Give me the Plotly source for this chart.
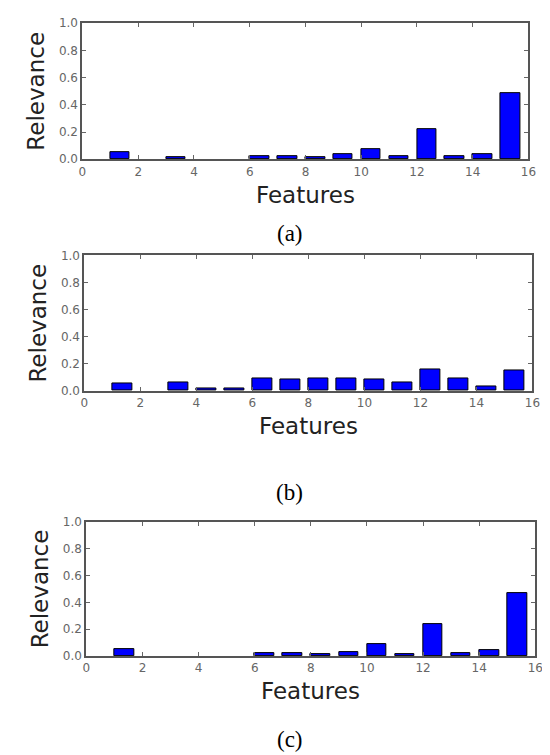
import plotly.graph_objects as go

features = list(range(1, 16))
relevance_a = [0.05, 0.0, 0.012, 0.0, 0.0, 0.02, 0.02, 0.012, 0.038, 0.078, 0.02, 0.224, 0.02, 0.04, 0.489]
relevance_b = [0.053, 0.0, 0.062, 0.017, 0.015, 0.089, 0.081, 0.091, 0.091, 0.084, 0.062, 0.16, 0.09, 0.033, 0.15]
relevance_c = [0.053, 0.0, 0.0, 0.0, 0.0, 0.022, 0.022, 0.012, 0.029, 0.09, 0.012, 0.24, 0.022, 0.041, 0.466]
x_ticks = [0, 2, 4, 6, 8, 10, 12, 14, 16]
y_ticks = [0.0, 0.2, 0.4, 0.6, 0.8, 1.0]
captions = ["(a)", "(b)", "(c)"]

W, H = 550, 755
# pixel boxes: left, right, top, bottom
boxes = [(72, 528, 8.3, 147), (74, 532, 245, 383), (76, 535, 516.7, 653)]
series = [relevance_a, relevance_b, relevance_c]
caption_y = [223, 487, 738]

fig = go.Figure()
annotations = []
for i, (vals, box) in enumerate(zip(series, boxes)):
    l, r, t, b = box
    xa = "xaxis" if i == 0 else f"xaxis{i+1}"
    ya = "yaxis" if i == 0 else f"yaxis{i+1}"
    xref = "x" if i == 0 else f"x{i+1}"
    yref = "y" if i == 0 else f"y{i+1}"
    edge_w = [1 if v > 0 else 0 for v in vals]
    fig.add_trace(go.Bar(
        x=features, y=vals, width=0.7, offset=0,
        marker=dict(color="#0000FF", line=dict(color="black", width=edge_w)),
        xaxis=xref, yaxis=yref, showlegend=False,
    ))
    common = dict(showline=True, linecolor="#555555", linewidth=2, mirror="ticks",
                  ticks="inside", ticklen=4, tickcolor="#666666", tickwidth=1,
                  showgrid=False, zeroline=False,
                  tickfont=dict(family="DejaVu Sans", size=12, color="#666666"))
    fig.layout[xa] = dict(domain=[l / W, r / W], range=[0, 16], tickvals=x_ticks,
                          anchor=yref, **common)
    fig.layout[ya] = dict(domain=[1 - b / H, 1 - t / H], range=[0, 1.0], tickvals=y_ticks,
                          tickformat=".1f", anchor=xref, **common)
    annotations.append(dict(text="Relevance", textangle=-90, xref="paper", yref="paper",
                            x=(l - 47) / W, y=1 - (t + b) / 2 / H, showarrow=False,
                            xanchor="center", yanchor="middle",
                            font=dict(family="DejaVu Sans", size=23, color="#222222")))
    annotations.append(dict(text="Features", xref="paper", yref="paper",
                            x=(l + r) / 2 / W, y=1 - (b + 36) / H, showarrow=False,
                            xanchor="center", yanchor="middle",
                            font=dict(family="DejaVu Sans", size=23, color="#222222")))
    annotations.append(dict(text=captions[i], xref="paper", yref="paper",
                            x=284 / W, y=1 - caption_y[i] / H, showarrow=False,
                            xanchor="center", yanchor="middle",
                            font=dict(family="Liberation Serif", size=23, color="black")))

fig.update_layout(width=W, height=H, margin=dict(l=0, r=0, t=0, b=0),
                  paper_bgcolor="white", plot_bgcolor="white",
                  annotations=annotations, bargap=0)
fig.write_html("out.html")
